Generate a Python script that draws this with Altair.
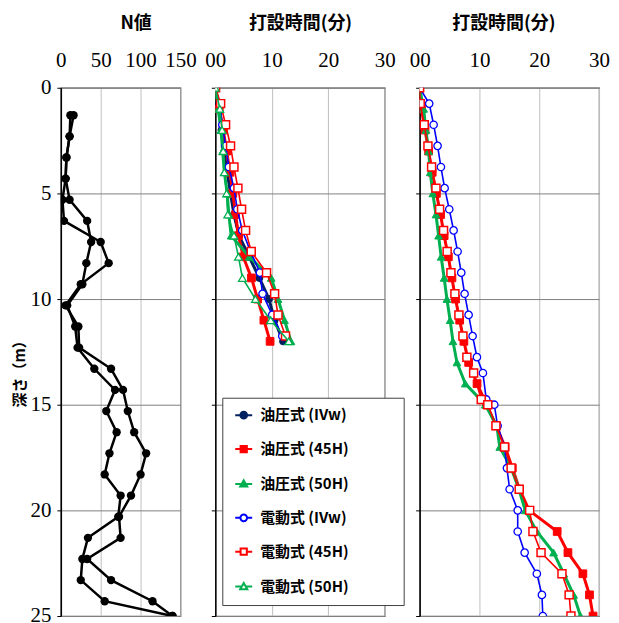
import altair as alt
import pandas as pd

# ---------------- data ----------------
# N値 (two boreholes)
n_depth = [1.3, 2.3, 3.3, 4.3, 5.3, 6.3, 7.3, 8.3, 9.3, 10.3, 11.3, 12.3, 13.3,
           14.3, 15.3, 16.3, 17.3, 18.3, 19.3, 20.3, 21.3, 22.3, 23.3, 24.3, 25.0]
n_a = [16, 11, 7, 6, 11, 33, 38, 32, 27, 8, 18, 21, 42, 68, 57, 70, 61, 55, 75, 72, 34, 27, 25, 55, 140]
n_b = [12, 11, 7, 6, 2, 4, 50, 60, 25, 6, 22, 23, 63, 78, 84, 92, 107, 100, 88, 73, 75, 33, 63, 115, 140]

series_names = ["油圧式 (IVw)", "油圧式 (45H)", "油圧式 (50H)",
                "電動式 (IVw)", "電動式 (45H)", "電動式 (50H)"]

# 打設時間 (middle panel)
mid_int_depth = [0, 1, 2, 3, 4, 5, 6, 7, 8, 9, 10, 11, 12]
mid_q_depth = [0, 0.75, 1.75, 2.75, 3.75, 4.75, 5.75, 6.75, 7.75, 8.75, 9.75, 10.75, 11.75]
mid_oil_ivw = [0, 0.6, 1.1, 1.6, 2.1, 2.7, 3.3, 4.2, 6.0, 7.8, 9.5, 10.5, 12.0]
mid_oil_45h = [0, 0.7, 1.4, 2.0, 2.6, 3.1, 3.6, 4.1, 4.95, 6.4, 7.5, 8.6, 9.7]
mid_oil_50h = [0, 0.5, 1.0, 1.3, 1.6, 2.1, 2.4, 2.8, 6.0, 9.9, 11.1, 12.25, 13.4]
mid_ele_ivw = [0, 0.8, 1.24, 1.82, 2.4, 3.3, 3.9, 4.77, 6.24, 7.9, 8.36, 10.08, 11.85]
mid_ele_45h = [0.05, 0.94, 1.82, 2.7, 3.3, 4.0, 4.65, 5.36, 6.36, 9.07, 10.5, 11.1, 12.43]
mid_ele_50h = [0, 0.8, 1.2, 1.4, 1.6, 2.0, 2.2, 3.3, 4.1, 4.8, 7.1, 9.8, 13.0]

# 打設時間 (right panel)
r_ele_depth = [0, 0.75, 1.75, 2.75, 3.75, 4.75, 5.75, 6.75, 7.75, 8.75, 9.75, 10.75, 11.75,
               12.75, 13.5, 14.75, 15, 16, 17, 18, 19, 20, 21, 22, 23, 24, 25]
r_ele_ivw = [0, 1.6, 2.34, 3.0, 3.56, 4.18, 4.95, 5.68, 6.35, 6.96, 7.52, 8.19, 8.86,
             9.58, 10.58, 11.14, 12.48, 13.04, 14.2, 14.6, 15.05, 16.4, 16.4, 17.56, 19.6, 20.45, 20.6]
r_ele_45h = [0, 0.1, 0.77, 1.39, 2.0, 2.73, 3.34, 4.0, 4.6, 5.23, 5.9, 6.57, 7.24,
             7.9, 9.03, 10.3, 11.4, 12.76, 14.2, 15.3, 16.65, 18.4, 18.95, 20.3, 23.8, 25.0, 25.3]
r_oil_depth = [0, 1, 2, 3, 4, 5, 6, 7, 8, 9, 10, 11, 12, 13, 14, 15, 16, 17, 18, 19, 20, 21, 22, 23, 24, 25]
r_oil_45h = [0, 0.3, 0.9, 1.5, 2.1, 2.8, 3.5, 4.1, 4.8, 5.4, 6.0, 6.7, 7.4, 8.2, 9.6, 11.2,
             12.8, 14.3, 15.5, 16.7, 18.3, 23.0, 24.8, 27.3, 28.4, 29.0]
r_oil_50h = [0, 0.67, 1.05, 1.5, 1.77, 2.2, 2.73, 3.17, 3.6, 4.1, 4.56, 5.1, 5.57, 6.24, 7.63,
             10.97, 12.9, 13.4, 15.3, 16.6, 17.66, 19.6, 22.4, 24.1, 25.75, 26.9]

# ---------------- styles ----------------
NAVY, RED, GREEN, BLUE = "#002060", "#ff0000", "#00b050", "#0000ff"
STYLE = {
    "油圧式 (IVw)": dict(color=NAVY, fill=NAVY, shape="circle", lw=3, size=50, sw=1),
    "油圧式 (45H)": dict(color=RED, fill=RED, shape="square", lw=3, size=60, sw=1),
    "油圧式 (50H)": dict(color=GREEN, fill=GREEN, shape="triangle-up", lw=3, size=60, sw=1),
    "電動式 (IVw)": dict(color=BLUE, fill="white", shape="circle", lw=1.6, size=55, sw=1.3),
    "電動式 (45H)": dict(color=RED, fill="white", shape="square", lw=1.6, size=64, sw=1.5),
    "電動式 (50H)": dict(color=GREEN, fill="white", shape="triangle-up", lw=1.6, size=60, sw=1.3),
}
legend_colors = [STYLE[s]["color"] for s in series_names]
legend_fills = [STYLE[s]["fill"] for s in series_names]
C_PATH = "M-1.9,0H-0.75M0.75,0H1.9M0.75,0A0.75,0.75,0,1,1,-0.75,0A0.75,0.75,0,1,1,0.75,0Z"
S_PATH = "M-1.9,0H-0.7M0.7,0H1.9M-0.7,-0.7H0.7V0.7H-0.7Z"
T_PATH = "M-1.9,0H-0.45M0.45,0H1.9M0,-0.8L0.8,0.6H-0.8Z"
legend_shapes = [C_PATH, S_PATH, T_PATH, C_PATH, S_PATH, T_PATH]

SERIF = "Liberation Serif"
CJK = "Noto Sans CJK JP"
YDOM = [0, 25]


def x_axis(values, title, title_x=None, zero_label=None):
    kw = dict(orient="top", values=values, title=title, grid=True, gridColor="#c0c0c0",
              domainColor="#8c8c8c", ticks=False, labelPadding=17, titlePadding=17,
              labelFont=SERIF, labelFontSize=21, labelColor="black", labelOverlap=False,
              labelFlush=False,
              titleFont=CJK, titleFontSize=18, titleFontWeight="bold", titleColor="black")
    if title_x is not None:
        kw["titleX"] = title_x
    if zero_label is not None:
        kw["labelExpr"] = "datum.value == 0 ? '%s' : datum.label" % zero_label
    return alt.Axis(**kw)


def y_axis(show_labels):
    kw = dict(values=[0, 5, 10, 15, 20, 25], grid=True, gridColor="#808080",
              domainColor="black", domainWidth=1.5, tickColor="black", tickSize=4,
              labelFont=SERIF, labelFontSize=21, labelColor="black", labelPadding=6,
              labelOverlap=False, labelFlush=False)
    if show_labels:
        kw.update(title="深さ（m）", titleFont=CJK, titleFontSize=15, titleFontWeight="bold",
                  titleColor="black", titlePadding=2, titleY=283)
    else:
        kw.update(labels=False, title=None)
    return alt.Axis(**kw)


def series_layers(name, depths, vals, xdom, xax, yax):
    st = STYLE[name]
    df = pd.DataFrame({"depth": depths, "v": vals})
    x = alt.X("v:Q", scale=alt.Scale(domain=xdom, nice=False, zero=False), axis=xax)
    y = alt.Y("depth:Q", scale=alt.Scale(domain=YDOM, reverse=True, nice=False), axis=yax)
    line = alt.Chart(df).mark_line(color=st["color"], strokeWidth=st["lw"], clip=True).encode(
        x=x, y=y, order=alt.Order("depth:Q"))
    pts = alt.Chart(df).mark_point(shape=st["shape"], filled=True, fill=st["fill"], stroke=st["color"],
                                   strokeWidth=st["sw"], size=st["size"], opacity=1, clip=True).encode(x=x, y=y)
    return [line, pts]


# ---------------- left panel: N値 ----------------
ndom = [0, 150]
nax = x_axis([0, 50, 100, 150], "N値", title_x=75)
left_layers = []
for vals in (n_a, n_b):
    df = pd.DataFrame({"depth": n_depth, "v": vals})
    x = alt.X("v:Q", scale=alt.Scale(domain=ndom, nice=False), axis=nax)
    y = alt.Y("depth:Q", scale=alt.Scale(domain=YDOM, reverse=True, nice=False), axis=y_axis(True))
    left_layers.append(alt.Chart(df).mark_line(color="black", strokeWidth=2.5, clip=True).encode(
        x=x, y=y, order=alt.Order("depth:Q")))
    left_layers.append(alt.Chart(df).mark_point(shape="circle", filled=True, color="black", size=70,
                                                opacity=1, clip=True).encode(x=x, y=y))
left = alt.layer(*left_layers).properties(width=120, height=530)

# ---------------- middle panel ----------------
tdom = [0, 30]
mid_xax = x_axis([0, 10, 20, 30], "打設時間(分)", zero_label="00")
mid_yax = y_axis(False)
mid_series = [
    ("油圧式 (IVw)", mid_int_depth, mid_oil_ivw),
    ("油圧式 (45H)", mid_int_depth, mid_oil_45h),
    ("油圧式 (50H)", mid_int_depth, mid_oil_50h),
    ("電動式 (IVw)", mid_q_depth, mid_ele_ivw),
    ("電動式 (45H)", mid_q_depth, mid_ele_45h),
    ("電動式 (50H)", mid_int_depth, mid_ele_50h),
]
mid_layers = []
for name, d, v in mid_series:
    mid_layers += series_layers(name, d, v, tdom, mid_xax, mid_yax)

leg_df = pd.DataFrame({"series": series_names, "v": [0] * 6, "depth": [-5] * 6})
leg = alt.Legend(orient="none", legendX=162, legendY=311, title=None,
                 labelFont=CJK, labelFontSize=15, labelFontWeight="bold", labelColor="black",
                 labelExpr="datum.label + '\u3000\u3000\u3000\u200b'",
                 symbolSize=80, symbolStrokeWidth=2, labelOffset=9, symbolOffset=4,
                 rowPadding=18, padding=10, strokeColor="#404040", fillColor="white")
legend_layer = alt.Chart(leg_df).mark_point(filled=True, size=80, strokeWidth=2, opacity=1, clip=True).encode(
    x=alt.X("v:Q", scale=alt.Scale(domain=tdom, nice=False, zero=False), axis=mid_xax),
    y=alt.Y("depth:Q", scale=alt.Scale(domain=YDOM, reverse=True, nice=False), axis=mid_yax),
    shape=alt.Shape("series:N", scale=alt.Scale(domain=series_names, range=legend_shapes), legend=leg),
    stroke=alt.Stroke("series:N", scale=alt.Scale(domain=series_names, range=legend_colors), legend=leg),
    fill=alt.Fill("series:N", scale=alt.Scale(domain=series_names, range=legend_fills), legend=leg),
)
mid_layers.append(legend_layer)
middle = alt.layer(*mid_layers).properties(width=170, height=530)

# ---------------- right panel ----------------
r_xax = x_axis([0, 10, 20, 30], "打設時間(分)", title_x=84, zero_label="00")
r_yax = y_axis(False)
right_series = [
    ("油圧式 (45H)", r_oil_depth, r_oil_45h),
    ("油圧式 (50H)", r_oil_depth, r_oil_50h),
    ("電動式 (IVw)", r_ele_depth, r_ele_ivw),
    ("電動式 (45H)", r_ele_depth, r_ele_45h),
]
r_layers = []
for name, d, v in right_series:
    r_layers += series_layers(name, d, v, tdom, r_xax, r_yax)
right = alt.layer(*r_layers).properties(width=180, height=530)

chart = alt.hconcat(left, middle, right, spacing=35, bounds="flush").properties(
    padding={"left": 4, "top": 5, "right": 0, "bottom": 0}
).configure_axis(
    labelFont=SERIF
).configure_view(stroke="#595959", strokeWidth=1.2)

chart.save("out.html", embed_options={"renderer": "svg", "actions": False})
